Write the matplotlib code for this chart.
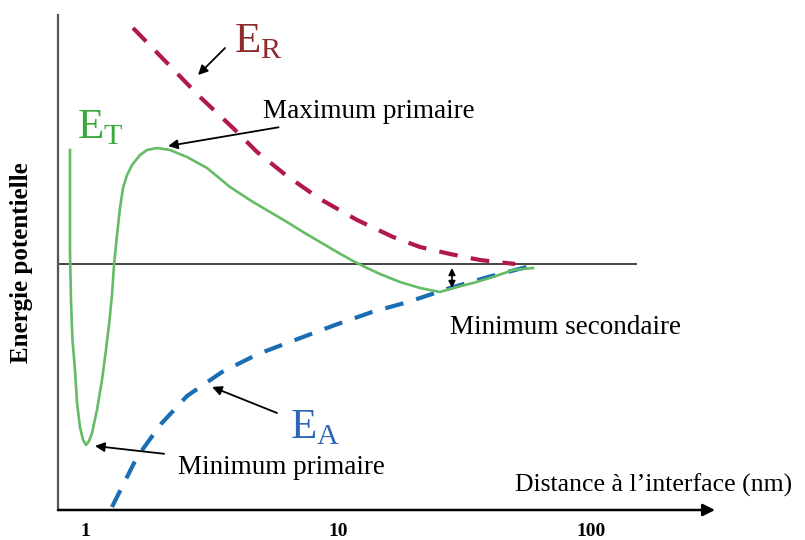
import numpy as np
import matplotlib
matplotlib.use('Agg')
from matplotlib import pyplot as plt

plt.rcParams['font.family'] = ['Liberation Serif', 'DejaVu Serif']
plt.rcParams['mathtext.fontset'] = 'custom'
plt.rcParams['mathtext.rm'] = 'Liberation Serif'

# distance (nm) / potential energy (arbitrary units)
et_x = [0.872, 0.872, 0.880, 0.892, 0.913, 0.930, 0.955, 0.982, 1.009, 1.037,
        1.066, 1.115, 1.167, 1.210, 1.244, 1.278, 1.302, 1.338, 1.375, 1.413,
        1.466, 1.534, 1.650, 1.758, 1.926, 2.167, 2.530, 3.035, 3.742, 4.613,
        5.385, 6.286, 7.273, 8.49, 9.91, 11.47, 13.02, 14.65, 17.58, 21.09,
        25.30, 28.49, 34.17, 41.0, 49.2, 58.99]
et_y = [1.14, 0.14, -0.36, -0.76, -1.06, -1.39, -1.63, -1.76, -1.81, -1.77,
        -1.69, -1.46, -1.16, -0.86, -0.61, -0.31, -0.01, 0.29, 0.56, 0.76,
        0.89, 0.99, 1.09, 1.14, 1.16, 1.14, 1.07, 0.96, 0.77, 0.62,
        0.52, 0.42, 0.32, 0.22, 0.12, 0.03, -0.04, -0.10, -0.18, -0.24,
        -0.28, -0.24, -0.19, -0.13, -0.06, -0.04]

er_x = [1.548, 2.110, 2.848, 3.846, 4.786, 6.286, 8.49, 11.89, 16.5, 21.09,
        27.72, 36.4, 50.1]
er_y = [2.36, 2.01, 1.67, 1.36, 1.12, 0.88, 0.65, 0.44, 0.27, 0.17,
        0.10, 0.04, 0.0]

ea_x = [1.278, 1.606, 1.997, 2.530, 3.479, 4.83, 6.761, 9.73, 13.63, 18.91,
        27.72, 39.17, 55.8]
ea_y = [-2.43, -1.93, -1.60, -1.32, -1.08, -0.90, -0.76, -0.61, -0.48, -0.38,
        -0.24, -0.13, -0.03]

xticks = [1, 10, 100]
xticklabels = ['1', '10', '100']

GREEN = '#66bb66'
RED = '#b3174f'
BLUE = '#1b6db3'

fig = plt.figure(figsize=(8.05, 5.4), dpi=100)
ax = fig.add_axes([58 / 805, 30 / 540, 657 / 805, 495 / 540])
ax.set_xscale('log')
ax.set_xlim(0.782, 309)
ax.set_ylim(-2.46, 2.49)

ax.plot(er_x, er_y, color=RED, lw=3.0, dashes=(4.5, 3.2))
ax.plot(ea_x, ea_y, color=BLUE, lw=3.0, dashes=(4.5, 3.2))
ax.plot(et_x, et_y, color=GREEN, lw=1.9, solid_joinstyle='round')

ax.hlines(0, 0.782, 152, color='#444444', lw=1.4, zorder=1)

for s in ['top', 'right', 'bottom']:
    ax.spines[s].set_visible(False)
ax.spines['left'].set_color('#555555')
ax.spines['left'].set_linewidth(1.6)
ax.annotate('', xy=(309, -2.46), xytext=(0.782, -2.46), annotation_clip=False,
            arrowprops=dict(arrowstyle='-|>', color='black', lw=1.8,
                            mutation_scale=18, shrinkA=0, shrinkB=0))

ax.set_xticks(xticks)
ax.set_xticklabels(xticklabels, fontsize=14, fontweight='bold')
ax.xaxis.set_minor_locator(matplotlib.ticker.NullLocator())
ax.tick_params(axis='x', length=0, pad=9)
ax.set_yticks([])
ax.set_ylabel('Energie potentielle', fontsize=18, fontweight='bold', labelpad=18)

# curve labels
ax.text(3.88, 2.22, r'E$_{\mathrm{R}}$', color='#8c2c2c', fontsize=31, va='center')
ax.text(0.93, 1.36, r'E$_{\mathrm{T}}$', color='#3aa83a', fontsize=31, va='center')
ax.text(6.46, -1.64, r'E$_{\mathrm{A}}$', color='#2a68b5', fontsize=31, va='center')

arrow = dict(arrowstyle='-|>', color='black', lw=1.3, mutation_scale=14,
             shrinkA=0, shrinkB=0)
ax.annotate('', xy=(2.797, 1.89), xytext=(3.576, 2.16), arrowprops=arrow)
ax.annotate('Maximum primaire', xy=(2.13, 1.18), xytext=(5.05, 1.52),
            fontsize=19.5, va='center', arrowprops=arrow)
ax.annotate('', xy=(3.18, -1.23), xytext=(5.74, -1.49), arrowprops=arrow)
ax.annotate('Minimum primaire', xy=(1.095, -1.82), xytext=(2.33, -2.03),
            fontsize=19.5, va='center', arrowprops=dict(arrow, shrinkA=8))
ax.annotate('', xy=(28.2, -0.24), xytext=(28.2, -0.04),
            arrowprops=dict(arrowstyle='<|-|>', color='black', lw=1.2,
                            mutation_scale=10, shrinkA=0, shrinkB=0))
ax.text(27.7, -0.63, 'Minimum secondaire', fontsize=19.5, va='center')
ax.text(50.1, -2.21, "Distance à l\u2019interface (nm)", fontsize=18.5, va='center')

fig.savefig('out.png', dpi=100)
